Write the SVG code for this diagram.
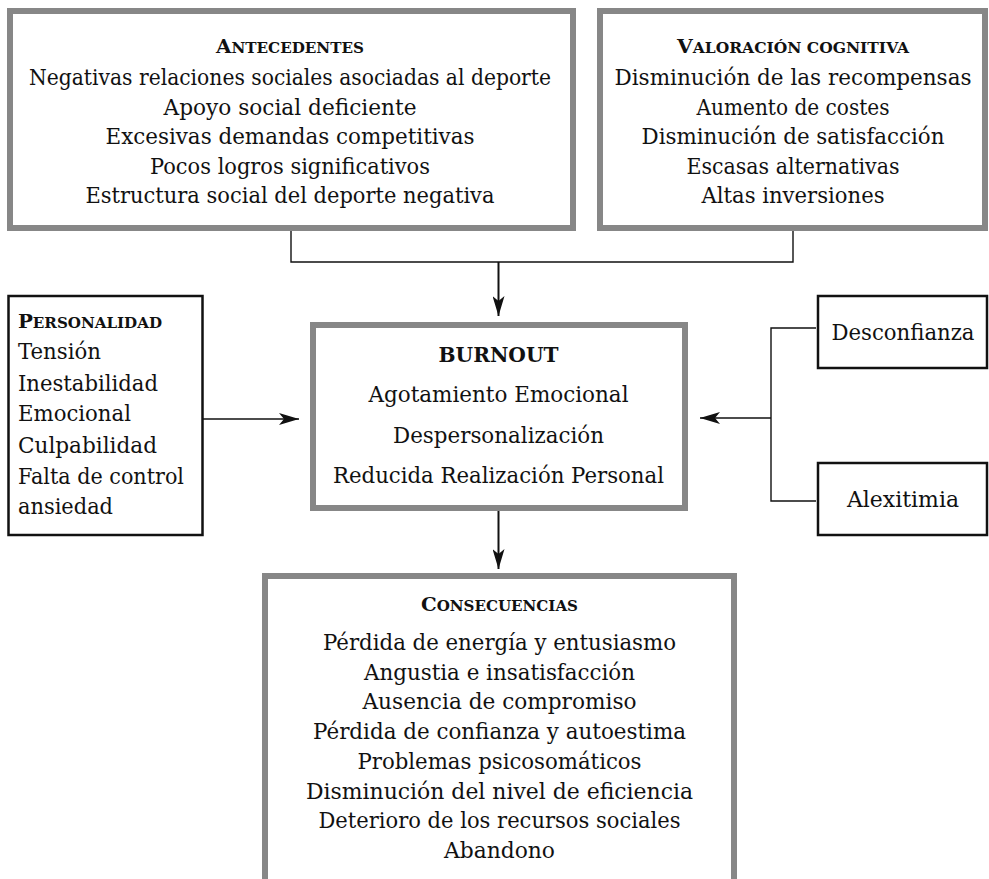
<svg xmlns="http://www.w3.org/2000/svg" width="989" height="879" viewBox="0 0 989 879">
<style>
.gbox{fill:#fff;stroke:#878787;stroke-width:6}
.bbox{fill:#fff;stroke:#111;stroke-width:2.5}
text{font-family:"DejaVu Serif","Liberation Serif",serif;font-size:21.5px;fill:#111}
.c{text-anchor:middle}
.h{font-weight:bold;font-size:14.5px}
.h .big{font-size:19px}
.bt{font-weight:bold;font-size:21px}
.ln{fill:none;stroke:#111;stroke-width:1.4}
.ar{fill:none;stroke:#111;stroke-width:2}
</style>
<defs>
<marker id="ah" viewBox="0 0 20 12" refX="20" refY="6" markerWidth="20" markerHeight="12" orient="auto" markerUnits="userSpaceOnUse">
<path d="M0,0 L20,6 L0,12 L5,6 Z" fill="#111"/>
</marker>
</defs>
<g id="antecedentes">
<rect class="gbox" x="10" y="11" width="563" height="217"/>
<text class="c h" x="290" y="53" textLength="148" lengthAdjust="spacingAndGlyphs"><tspan class="big">A</tspan>NTECEDENTES</text>
<text class="c" x="290" y="85" textLength="522" lengthAdjust="spacingAndGlyphs">Negativas relaciones sociales asociadas al deporte</text>
<text class="c" x="290" y="114.5" textLength="253" lengthAdjust="spacingAndGlyphs">Apoyo social deficiente</text>
<text class="c" x="290" y="144" textLength="369" lengthAdjust="spacingAndGlyphs">Excesivas demandas competitivas</text>
<text class="c" x="290" y="173.5" textLength="280" lengthAdjust="spacingAndGlyphs">Pocos logros significativos</text>
<text class="c" x="290" y="203" textLength="409" lengthAdjust="spacingAndGlyphs">Estructura social del deporte negativa</text>
</g>
<g id="valoracion">
<rect class="gbox" x="600" y="11" width="385" height="217"/>
<text class="c h" x="793" y="53" textLength="232" lengthAdjust="spacingAndGlyphs"><tspan class="big">V</tspan>ALORACIÓN COGNITIVA</text>
<text class="c" x="793" y="85" textLength="357" lengthAdjust="spacingAndGlyphs">Disminución de las recompensas</text>
<text class="c" x="793" y="114.5" textLength="193" lengthAdjust="spacingAndGlyphs">Aumento de costes</text>
<text class="c" x="793" y="144" textLength="303" lengthAdjust="spacingAndGlyphs">Disminución de satisfacción</text>
<text class="c" x="793" y="173.5" textLength="213" lengthAdjust="spacingAndGlyphs">Escasas alternativas</text>
<text class="c" x="793" y="203" textLength="183" lengthAdjust="spacingAndGlyphs">Altas inversiones</text>
</g>
<g id="personalidad">
<rect class="bbox" x="8.5" y="296" width="194" height="239"/>
<text class="h" x="18" y="328" textLength="144" lengthAdjust="spacingAndGlyphs"><tspan class="big">P</tspan>ERSONALIDAD</text>
<text x="18" y="359" textLength="83" lengthAdjust="spacingAndGlyphs">Tensión</text>
<text x="18" y="391" textLength="140" lengthAdjust="spacingAndGlyphs">Inestabilidad</text>
<text x="18" y="421" textLength="113" lengthAdjust="spacingAndGlyphs">Emocional</text>
<text x="18" y="453" textLength="139" lengthAdjust="spacingAndGlyphs">Culpabilidad</text>
<text x="18" y="484" textLength="166" lengthAdjust="spacingAndGlyphs">Falta de control</text>
<text x="18" y="514" textLength="95" lengthAdjust="spacingAndGlyphs">ansiedad</text>
</g>
<g id="burnout">
<rect class="gbox" x="313" y="325" width="372" height="183"/>
<text class="c bt" x="498.5" y="362" textLength="120" lengthAdjust="spacingAndGlyphs">BURNOUT</text>
<text class="c" x="498.5" y="402" textLength="260" lengthAdjust="spacingAndGlyphs">Agotamiento Emocional</text>
<text class="c" x="498.5" y="443" textLength="211" lengthAdjust="spacingAndGlyphs">Despersonalización</text>
<text class="c" x="498.5" y="483" textLength="331" lengthAdjust="spacingAndGlyphs">Reducida Realización Personal</text>
</g>
<g id="desconfianza">
<rect class="bbox" x="818" y="296" width="169" height="72"/>
<text class="c" x="903" y="340" textLength="143" lengthAdjust="spacingAndGlyphs">Desconfianza</text>
</g>
<g id="alexitimia">
<rect class="bbox" x="818" y="463" width="169" height="72"/>
<text class="c" x="903" y="507" textLength="112" lengthAdjust="spacingAndGlyphs">Alexitimia</text>
</g>
<g id="consecuencias">
<rect class="gbox" x="265" y="576" width="469" height="306"/>
<text class="c h" x="499.5" y="611" textLength="157" lengthAdjust="spacingAndGlyphs"><tspan class="big">C</tspan>ONSECUENCIAS</text>
<text class="c" x="499.5" y="650" textLength="353" lengthAdjust="spacingAndGlyphs">Pérdida de energía y entusiasmo</text>
<text class="c" x="499.5" y="679.7" textLength="271" lengthAdjust="spacingAndGlyphs">Angustia e insatisfacción</text>
<text class="c" x="499.5" y="709.4" textLength="274" lengthAdjust="spacingAndGlyphs">Ausencia de compromiso</text>
<text class="c" x="499.5" y="739" textLength="373" lengthAdjust="spacingAndGlyphs">Pérdida de confianza y autoestima</text>
<text class="c" x="499.5" y="768.8" textLength="284" lengthAdjust="spacingAndGlyphs">Problemas psicosomáticos</text>
<text class="c" x="499.5" y="798.5" textLength="387" lengthAdjust="spacingAndGlyphs">Disminución del nivel de eficiencia</text>
<text class="c" x="499.5" y="828.2" textLength="362" lengthAdjust="spacingAndGlyphs">Deterioro de los recursos sociales</text>
<text class="c" x="499.5" y="857.9" textLength="111" lengthAdjust="spacingAndGlyphs">Abandono</text>
</g>
<g id="connectors">
<polyline class="ln" points="291,231 291,262 793,262 793,231"/>
<line class="ar" x1="498.5" y1="262" x2="498.5" y2="316" marker-end="url(#ah)"/>
<line class="ar" x1="203" y1="419" x2="299" y2="419" marker-end="url(#ah)" style="stroke-width:1.5"/>
<polyline class="ln" points="816,328 771,328 771,501 816,501"/>
<line class="ar" x1="771" y1="418" x2="700" y2="418" marker-end="url(#ah)" style="stroke-width:1.5"/>
<line class="ar" x1="498.5" y1="511" x2="498.5" y2="569" marker-end="url(#ah)"/>
</g>
</svg>
